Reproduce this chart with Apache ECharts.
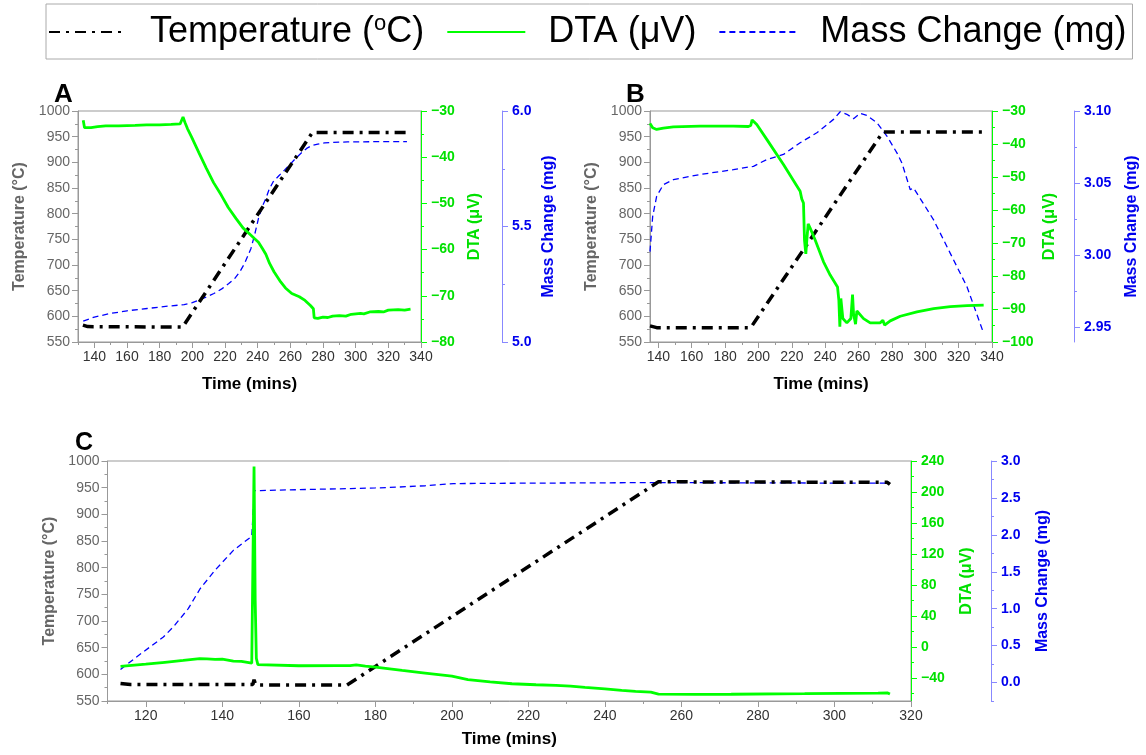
<!DOCTYPE html>
<html>
<head>
<meta charset="utf-8">
<script src="https://cdn.jsdelivr.net/npm/echarts@6/dist/echarts.min.js"></script>
<style>html,body{margin:0;padding:0;background:#fff;}#main{width:1146px;height:755px;}</style>
</head>
<body>
<div id="main"></div>
<script>
// ---------------- DATA ----------------
const SERIES_NAMES = ['Temperature (°C)', 'DTA (μV)', 'Mass Change (mg)'];

// Panel A  [time (mins), value]
const A_temp = [[133,583],[136,580],[194,579],[273.5,958],[334,958]];
const A_dta = [[133.2,-32.0],[134.0,-33.6],[135.0,-34.0],[138,-33.6],[142,-33.4],[147,-33.2],[155,-33.2],[165,-33.1],[172,-33.0],[180,-33.0],[187,-32.9],[192.5,-32.8],[193.5,-32.6],[194.3,-31.3],[195.5,-32.5],[197,-33.8],[199.5,-35.6],[204,-39.0],[208.6,-42.4],[213,-45.5],[217.7,-48.2],[222,-50.9],[226.8,-53.3],[231,-55.3],[235.9,-56.9],[238,-57.6],[240.5,-58.4],[243,-59.8],[245,-61.0],[247.3,-63.0],[250,-64.8],[254.1,-67.0],[257,-68.3],[260.9,-69.5],[265.5,-70.2],[269,-71.0],[272.3,-72.1],[274.1,-72.8],[274.6,-74.8],[276.8,-74.9],[280,-74.6],[283,-74.7],[285.9,-74.4],[290,-74.3],[294,-74.4],[297.3,-74.0],[303,-73.8],[305,-73.9],[308.6,-73.5],[314,-73.4],[317,-73.5],[320,-73.1],[326,-73.0],[330,-73.1],[333.6,-72.9]];
const A_mass = [[133.2,5.090],[140,5.108],[149.5,5.123],[160,5.135],[172.3,5.145],[185,5.155],[195,5.162],[200,5.170],[204,5.181],[208,5.193],[213.2,5.21],[218,5.23],[222.3,5.253],[226,5.275],[229,5.303],[232,5.34],[235.9,5.405],[238,5.46],[240.5,5.535],[243,5.59],[245,5.621],[247,5.66],[249.5,5.694],[253,5.72],[256.4,5.744],[260,5.77],[263.2,5.795],[267,5.82],[270,5.838],[273,5.85],[276.8,5.857],[281,5.862],[285.9,5.864],[295,5.866],[308.6,5.867],[320,5.867],[331.4,5.867]];

// Panel B
const B_temp = [[135,581.5],[139,578],[195.4,578],[274.6,959],[335,959]];
const B_dta = [[135,-33.75],[136.6,-35.1],[139,-35.6],[143,-35.2],[149,-34.8],[165,-34.6],[185,-34.6],[194,-34.7],[195.4,-34.4],[196.2,-32.7],[199,-34.1],[205,-38.6],[215,-46.2],[225,-54.3],[226,-56.7],[227,-57.9],[227.6,-69.1],[228.4,-73.3],[229,-69.1],[229.8,-64.2],[231,-65.5],[234,-69.1],[239,-75.7],[243,-79.7],[247.4,-83.3],[248.2,-87.3],[248.8,-95.4],[249.4,-86.8],[250.6,-92.9],[253,-94.2],[255.4,-92.9],[256.4,-85.6],[257,-91.4],[258.2,-94.6],[259,-90.6],[263,-92.9],[267,-94.2],[273,-94.2],[274.6,-93.4],[275.6,-94.9],[279,-93.6],[285,-92.2],[295,-90.9],[305,-89.9],[315,-89.3],[325,-89.0],[335,-88.8]];
const B_mass = [[135,3.0026],[136.6,3.027],[139,3.041],[143,3.049],[149,3.0525],[165,3.056],[185,3.0594],[197,3.0617],[205,3.0664],[215,3.0699],[225,3.078],[235,3.0849],[245,3.0942],[249,3.0995],[253,3.0977],[257,3.0947],[261,3.0984],[265,3.097],[271,3.0919],[277,3.0826],[283,3.071],[286,3.064],[291,3.0455],[293,3.0467],[305,3.0246],[315,3.0014],[325,2.9783],[335,2.946]];

// Panel C
const C_temp = [[113.4,583],[116,581],[148,581],[148.3,590],[148.7,581],[149.3,580],[172.6,580],[254,961],[313.8,960],[314.5,956]];
const C_dta = [[113.4,-25.4],[120,-22.5],[125,-20],[129.8,-17.6],[134.1,-15.4],[136,-15.6],[138.1,-16.3],[140,-16],[142.9,-18.5],[145,-18.8],[147.7,-21.1],[148.0,-21],[148.3,233],[148.6,60],[148.9,-15],[149.3,-23],[149.8,-24.5],[160,-24.5],[170,-24.3],[173.4,-24.2],[175,-23.2],[177.4,-25],[180,-26.3],[187,-30.5],[193,-34],[200,-38],[204.2,-42.4],[210,-45.3],[215.7,-47.7],[222,-49],[227.2,-49.9],[231,-50.8],[234.8,-52.4],[240,-54.3],[244.4,-56.3],[248,-57.5],[252,-58.6],[254,-61],[263.5,-61.5],[273,-61.3],[292.2,-60.6],[311.4,-59.8],[313.8,-59.5],[314.5,-61]];
const C_mass = [[113.4,0.176],[117.6,0.347],[121.1,0.482],[124.6,0.617],[127.2,0.753],[131.1,1.0],[134.2,1.27],[138.1,1.52],[142.9,1.79],[147.7,1.98],[148.1,2.0],[148.4,2.6],[150,2.60],[160.3,2.612],[173.6,2.627],[180,2.635],[186.4,2.648],[193,2.665],[196.6,2.68],[200.4,2.694],[215.7,2.699],[254,2.708],[314.3,2.699]];

// Tick label values
const A_xTicks = [140,160,180,200,220,240,260,280,300,320,340];
const B_xTicks = [140,160,180,200,220,240,260,280,300,320,340];
const C_xTicks = [120,140,160,180,200,220,240,260,280,300,320];
const tempTicks = [550,600,650,700,750,800,850,900,950,1000];
const A_dtaTicks = [-80,-70,-60,-50,-40,-30];
const B_dtaTicks = [-100,-90,-80,-70,-60,-50,-40,-30];
const C_dtaTicks = [-40,0,40,80,120,160,200,240];
const A_massTicks = [5.0,5.5,6.0];
const B_massTicks = [2.95,3.00,3.05,3.10];
const C_massTicks = [0.0,0.5,1.0,1.5,2.0,2.5,3.0];

// ---------------- CHART ----------------
const FONT = '"Liberation Sans", Arial, Helvetica, sans-serif';
const GREEN = '#00ff00', GREEN_T = '#00e000', BLUE = '#0000ff', BLUE_L = '#8888ff', GRAY = '#999999';
const mids = (arr) => arr.slice(0, -1).map((v, i) => +((v + arr[i + 1]) / 2).toFixed(4));
const minus = (s) => String(s).replace('-', '\u2212');

const grids = [
  {left: 78, top: 111, width: 343, height: 231},
  {left: 650, top: 111, width: 342, height: 231},
  {left: 107.5, top: 461, width: 803.5, height: 240}
].map(g => Object.assign({show: true, borderColor: GRAY, borderWidth: 1, backgroundColor: 'transparent', containLabel: false, outerBoundsMode: 'none'}, g));

const xAxes = [], yAxes = [];
function addAxis(list, c) {
  const main = {
    type: 'value', gridIndex: c.grid, position: c.pos, offset: c.offset || 0,
    min: c.min, max: c.max, splitLine: {show: false},
    axisLine: {show: true, onZero: false, lineStyle: {color: c.lineColor, width: 1}},
    axisTick: {show: true, inside: false, customValues: c.major, length: 6, lineStyle: {color: c.lineColor}},
    axisLabel: {show: true, customValues: c.major, formatter: c.fmt, color: c.labelColor, fontSize: 14,
      fontWeight: c.bold ? 'bold' : 'normal', margin: c.margin || 8, fontFamily: FONT},
    name: c.name, nameLocation: 'middle', nameGap: c.nameGap,
    nameTextStyle: {color: c.nameColor, fontSize: c.nameSize || 16, fontWeight: 'bold', fontFamily: FONT}
  };
  list.push(main);
  const idx = list.length - 1;
  list.push({
    type: 'value', gridIndex: c.grid, position: c.pos, offset: c.offset || 0,
    min: c.min, max: c.max, splitLine: {show: false},
    axisLine: {show: false, onZero: false},
    axisTick: {show: true, inside: false, customValues: c.minor, length: 3, lineStyle: {color: c.lineColor}},
    axisLabel: {show: false}
  });
  return idx;
}
const fmtInt = v => minus(Math.round(v));
const panels = [
  {grid: 0, x: [130, 340, A_xTicks], dta: [-80, -30, A_dtaTicks], mass: [5.0, 6.0, A_massTicks, 1, 81], data: [A_temp, A_dta, A_mass], gaps: [34, 50, 46, 39]},
  {grid: 1, x: [135, 340, B_xTicks], dta: [-100, -30, B_dtaTicks], mass: [2.94, 3.10, B_massTicks, 2, 82], data: [B_temp, B_dta, B_mass], gaps: [34, 50, 50, 50]},
  {grid: 2, x: [110, 320, C_xTicks], dta: [-70, 240, C_dtaTicks], mass: [-0.25, 3.0, C_massTicks, 1, 80], data: [C_temp, C_dta, C_mass], gaps: [30, 50, 48, 44]}
];

const series = [];
panels.forEach(p => {
  const xt = p.x[2];
  const xMinor = [xt[0] - (xt[1] - xt[0]) / 2].concat(mids(xt)).filter(v => v >= p.x[0]);
  const xi = addAxis(xAxes, {grid: p.grid, pos: 'bottom', min: p.x[0], max: p.x[1], major: xt, minor: xMinor,
    fmt: v => String(v), labelColor: '#333', lineColor: GRAY, name: 'Time (mins)', nameGap: p.gaps[0], nameColor: '#000', nameSize: 17});
  const ti = addAxis(yAxes, {grid: p.grid, pos: 'left', min: 550, max: 1000, major: tempTicks, minor: mids(tempTicks),
    fmt: v => String(v), labelColor: '#666', lineColor: GRAY, name: 'Temperature (°C)', nameGap: p.gaps[1], nameColor: '#666'});
  const dt = p.dta[2];
  const dMinor = mids(dt).concat(p.dta[0] < dt[0] ? [dt[0] - (dt[1] - dt[0]) / 2] : []).filter(v => v >= p.dta[0]);
  const di = addAxis(yAxes, {grid: p.grid, pos: 'right', min: p.dta[0], max: p.dta[1], major: dt, minor: dMinor,
    fmt: fmtInt, labelColor: GREEN_T, bold: true, margin: 10, lineColor: GREEN, name: 'DTA (μV)', nameGap: p.gaps[2], nameColor: GREEN_T});
  const mt = p.mass[2];
  const mMinor = mids(mt).concat(p.mass[0] < mt[0] ? [+(mt[0] - (mt[1] - mt[0]) / 2).toFixed(4)] : []).filter(v => v >= p.mass[0] - 1e-9);
  const mi = addAxis(yAxes, {grid: p.grid, pos: 'right', offset: p.mass[4], min: p.mass[0], max: p.mass[1], major: mt, minor: mMinor,
    fmt: v => minus(v.toFixed(p.mass[3])), labelColor: '#0000ee', bold: true, margin: 10, lineColor: BLUE_L, name: 'Mass Change (mg)', nameGap: p.gaps[3], nameColor: '#0000ee'});
  series.push({name: SERIES_NAMES[2], type: 'line', xAxisIndex: xi, yAxisIndex: mi, data: p.data[2], symbol: 'none', showSymbol: false,
    lineStyle: {color: BLUE, width: 1.3, type: [6, 4]}, itemStyle: {color: BLUE}, z: 2});
  series.push({name: SERIES_NAMES[0], type: 'line', xAxisIndex: xi, yAxisIndex: ti, data: p.data[0], symbol: 'none', showSymbol: false,
    lineStyle: {color: '#000', width: 3.5, type: [11, 6, 3, 6], cap: 'butt'}, itemStyle: {color: '#000'}, z: 3});
  series.push({name: SERIES_NAMES[1], type: 'line', xAxisIndex: xi, yAxisIndex: di, data: p.data[1], symbol: 'none', showSymbol: false,
    lineStyle: {color: GREEN, width: 2.8}, itemStyle: {color: GREEN}, z: 4});
});

const chart = echarts.init(document.getElementById('main'), null, {renderer: 'canvas'});
chart.setOption({
  animation: false,
  backgroundColor: '#fff',
  textStyle: {fontFamily: FONT},
  title: [
    {text: 'A', left: 49, top: 77, textStyle: {fontSize: 26, fontWeight: 'bold', color: '#000', fontFamily: FONT}},
    {text: 'B', left: 621, top: 77, textStyle: {fontSize: 26, fontWeight: 'bold', color: '#000', fontFamily: FONT}},
    {text: 'C', left: 70, top: 426, textStyle: {fontSize: 25, fontWeight: 'bold', color: '#000', fontFamily: FONT}}
  ],
  legend: {
    data: SERIES_NAMES, left: 46, top: 4, orient: 'horizontal',
    itemWidth: 78, itemHeight: 14, itemGap: 22,
    padding: [9, 6, 9, 2], borderColor: '#aaa', borderWidth: 1,
    selectedMode: false,
    itemStyle: {color: 'rgba(0,0,0,0)', borderColor: 'rgba(0,0,0,0)', borderWidth: 0, opacity: 0},
    formatter: name => name === SERIES_NAMES[0] ? 'Temperature ({sup|o}C)' : name,
    textStyle: {fontSize: 36, color: '#000', fontFamily: FONT, lineHeight: 36, padding: [0, 0, 0, 18],
      rich: {sup: {fontSize: 22, color: '#000', fontFamily: FONT, padding: [0, 0, 16, 0]}}}
  },
  grid: grids,
  xAxis: xAxes,
  yAxis: yAxes,
  series: series
});
</script>
</body>
</html>
